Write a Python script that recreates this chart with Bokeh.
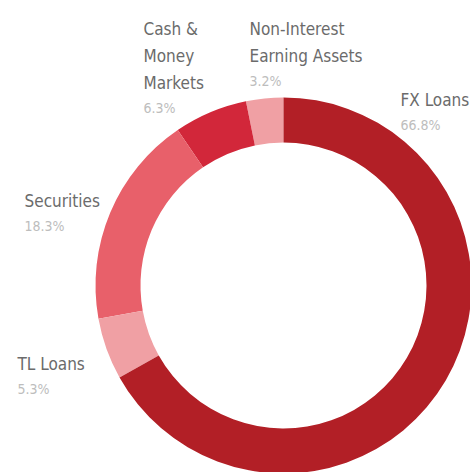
from bokeh.plotting import figure
from bokeh.models import Range1d, ColumnDataSource
from bokeh.core.properties import value
from bokeh.embed import file_html
from bokeh.resources import INLINE
import math

# data (anticlockwise from 12 o'clock)
categories = ["Non-Interest Earning Assets", "Cash & Money Markets", "Securities", "TL Loans", "FX Loans"]
shares = [3.2, 6.3, 18.3, 5.3, 66.8]
colors = ["#F0A0A4", "#D2273A", "#E8606A", "#F0A0A4", "#B21F26"]
label_lines = [["Non-Interest", "Earning Assets"], ["Cash &", "Money", "Markets"], ["Securities"], ["TL Loans"], ["FX Loans"]]
pct_labels = ["%.1f%%" % s for s in shares]

# layout (screen pixels)
W, H = 470, 472
CX, CY = 283, 285
R_OUT, R_IN = 188, 143
label_pos = [(249, 28), (143, 28), (24, 200), (17, 363), (400, 99)]  # left x, first baseline
LINE_H = 27
PCT_GAP = 25

def dx(sx):
    return sx

def dy(sy):
    return H - sy

p = figure(width=W, height=H, output_backend="svg", toolbar_location=None,
           x_range=Range1d(0, W), y_range=Range1d(0, H), min_border=0)
p.axis.visible = False
p.grid.visible = False
p.outline_line_color = None
p.background_fill_color = "white"
p.border_fill_color = "white"

total = sum(shares)
starts, ends = [], []
a = math.pi / 2
for s in shares:
    starts.append(a)
    a += 2 * math.pi * s / total
    ends.append(a)

src = ColumnDataSource(dict(start=starts, end=ends, color=colors))
p.annular_wedge(x=dx(CX), y=dy(CY), inner_radius=R_IN, outer_radius=R_OUT,
                start_angle="start", end_angle="end", fill_color="color",
                line_color=None, source=src)

font = value("DejaVu Sans Condensed")
nx, ny, nt = [], [], []
px, py, pt = [], [], []
for lines, (lx, ly), pl in zip(label_lines, label_pos, pct_labels):
    for i, ln in enumerate(lines):
        nx.append(dx(lx)); ny.append(dy(ly + i * LINE_H)); nt.append(ln)
    px.append(dx(lx)); py.append(dy(ly + (len(lines) - 1) * LINE_H + PCT_GAP)); pt.append(pl)

p.text(x=nx, y=ny, text=nt, text_font=font, text_font_size="17px",
       text_color="#6B6B6B", text_align="left", text_baseline="alphabetic")
p.text(x=px, y=py, text=pt, text_font=font, text_font_size="14px",
       text_color="#BDBDBD", text_align="left", text_baseline="alphabetic")

open("out.html", "w").write(file_html(p, INLINE))
